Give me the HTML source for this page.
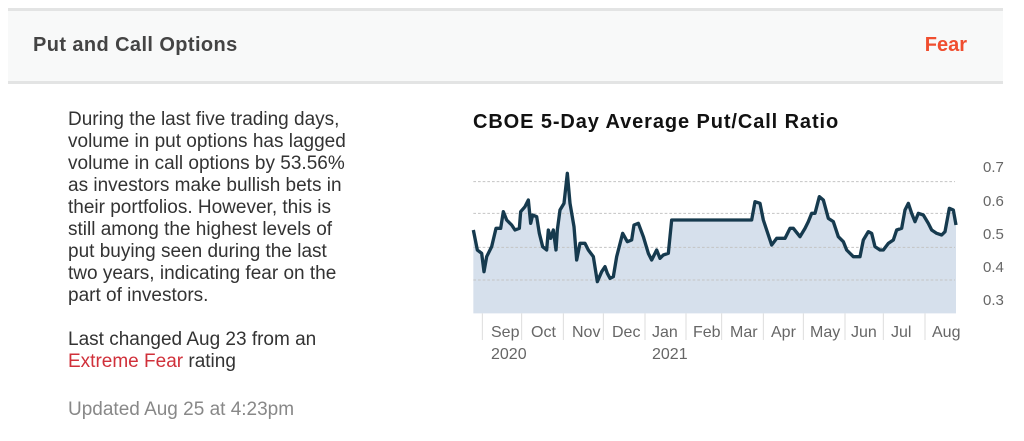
<!DOCTYPE html>
<html><head><meta charset="utf-8"><style>
body{margin:0;width:1024px;height:441px;background:#fff;font-family:"Liberation Sans",Arial,sans-serif;position:relative;overflow:hidden}
.hdr{position:absolute;left:8px;top:8px;width:995px;height:70px;background:#f8f9f9;border-top:3px solid #e3e4e4;border-bottom:3px solid #e3e4e4}
.hdr .t{position:absolute;left:25px;top:23px;font-size:20px;font-weight:bold;color:#444;letter-spacing:0.4px}
.hdr .f{position:absolute;right:36px;top:23px;font-size:20px;font-weight:bold;color:#f04e2f}
.txt{position:absolute;left:68px;top:109px;font-size:19px;line-height:22px;color:#333;white-space:nowrap}
.red{color:#d0303a}
.upd{position:absolute;left:68px;top:399px;font-size:19px;color:#888}
.ct{position:absolute;left:473px;top:111px;font-size:20px;font-weight:bold;color:#111;letter-spacing:0.9px}
</style></head><body>
<div class="hdr"><div class="t">Put and Call Options</div><div class="f">Fear</div></div>
<div class="txt">During the last five trading days,<br>volume in put options has lagged<br>volume in call options by 53.56%<br>as investors make bullish bets in<br>their portfolios. However, this is<br>still among the highest levels of<br>put buying seen during the last<br>two years, indicating fear on the<br>part of investors.<br><br>Last changed Aug 23 from an<br><span class="red">Extreme Fear</span> rating</div>
<div class="upd">Updated Aug 25 at 4:23pm</div>
<div class="ct">CBOE 5-Day Average Put/Call Ratio</div>
<svg style="position:absolute;left:0;top:0" width="1024" height="441">
<g transform="translate(470,150) scale(0.33333)">
<polygon fill="#d6e0ec" points="10,490 10,240 22,300 35,310 42,365 50,320 65,290 78,235 92,235 100,185 110,210 125,225 135,240 148,235 152,185 165,170 175,150 182,220 188,195 200,200 208,250 218,290 230,300 235,240 242,265 250,240 258,300 262,240 270,180 282,160 292,70 300,160 312,230 320,330 330,280 345,280 355,300 370,320 382,395 395,365 405,350 412,370 420,385 430,380 440,320 458,250 472,275 485,270 492,225 505,220 520,260 535,310 545,330 560,300 570,325 580,315 595,310 605,210 845,210 855,155 870,160 880,210 905,285 920,265 945,265 960,235 970,235 990,260 1005,235 1015,215 1025,190 1035,190 1048,140 1060,150 1075,205 1090,215 1105,260 1120,275 1130,300 1150,320 1170,320 1180,270 1195,245 1205,250 1215,290 1230,300 1240,300 1255,280 1270,270 1280,240 1295,235 1305,180 1315,160 1325,190 1335,215 1345,190 1360,195 1375,220 1385,240 1400,250 1415,255 1425,245 1438,175 1450,180 1458,225 1458,490"/>
<g stroke="#c4c4c4" stroke-width="3" stroke-dasharray="8,6">
<line x1="10" y1="95" x2="1455" y2="95"/><line x1="10" y1="190" x2="1455" y2="190"/><line x1="10" y1="292" x2="1455" y2="292"/><line x1="10" y1="390" x2="1455" y2="390"/></g>
<polyline fill="none" stroke="#163a4e" stroke-width="10" stroke-linejoin="round" points="10,240 22,300 35,310 42,365 50,320 65,290 78,235 92,235 100,185 110,210 125,225 135,240 148,235 152,185 165,170 175,150 182,220 188,195 200,200 208,250 218,290 230,300 235,240 242,265 250,240 258,300 262,240 270,180 282,160 292,70 300,160 312,230 320,330 330,280 345,280 355,300 370,320 382,395 395,365 405,350 412,370 420,385 430,380 440,320 458,250 472,275 485,270 492,225 505,220 520,260 535,310 545,330 560,300 570,325 580,315 595,310 605,210 845,210 855,155 870,160 880,210 905,285 920,265 945,265 960,235 970,235 990,260 1005,235 1015,215 1025,190 1035,190 1048,140 1060,150 1075,205 1090,215 1105,260 1120,275 1130,300 1150,320 1170,320 1180,270 1195,245 1205,250 1215,290 1230,300 1240,300 1255,280 1270,270 1280,240 1295,235 1305,180 1315,160 1325,190 1335,215 1345,190 1360,195 1375,220 1385,240 1400,250 1415,255 1425,245 1438,175 1450,180 1458,225"/>
<g stroke="#ddd" stroke-width="3">
<line x1="37" y1="490" x2="37" y2="570"/><line x1="155" y1="490" x2="155" y2="570"/><line x1="280" y1="490" x2="280" y2="570"/><line x1="400" y1="490" x2="400" y2="570"/><line x1="525" y1="490" x2="525" y2="570"/><line x1="648" y1="490" x2="648" y2="570"/><line x1="755" y1="490" x2="755" y2="570"/><line x1="880" y1="490" x2="880" y2="570"/><line x1="1000" y1="490" x2="1000" y2="570"/><line x1="1125" y1="490" x2="1125" y2="570"/><line x1="1240" y1="490" x2="1240" y2="570"/><line x1="1365" y1="490" x2="1365" y2="570"/></g>
</g>
<g font-family="Liberation Sans,Arial,sans-serif" font-size="16" fill="#666">
<text x="983" y="172" font-size="15">0.7</text><text x="983" y="206" font-size="15">0.6</text><text x="983" y="239" font-size="15">0.5</text><text x="983" y="272" font-size="15">0.4</text><text x="983" y="305" font-size="15">0.3</text>
<text x="491" y="337">Sep</text><text x="531" y="337">Oct</text><text x="572" y="337">Nov</text><text x="612" y="337">Dec</text><text x="652" y="337">Jan</text><text x="693" y="337">Feb</text><text x="730" y="337">Mar</text><text x="771" y="337">Apr</text><text x="810" y="337">May</text><text x="851" y="337">Jun</text><text x="891" y="337">Jul</text><text x="932" y="337">Aug</text>
<text x="491" y="359">2020</text><text x="652" y="359">2021</text>
</g>
</svg>
</body></html>
